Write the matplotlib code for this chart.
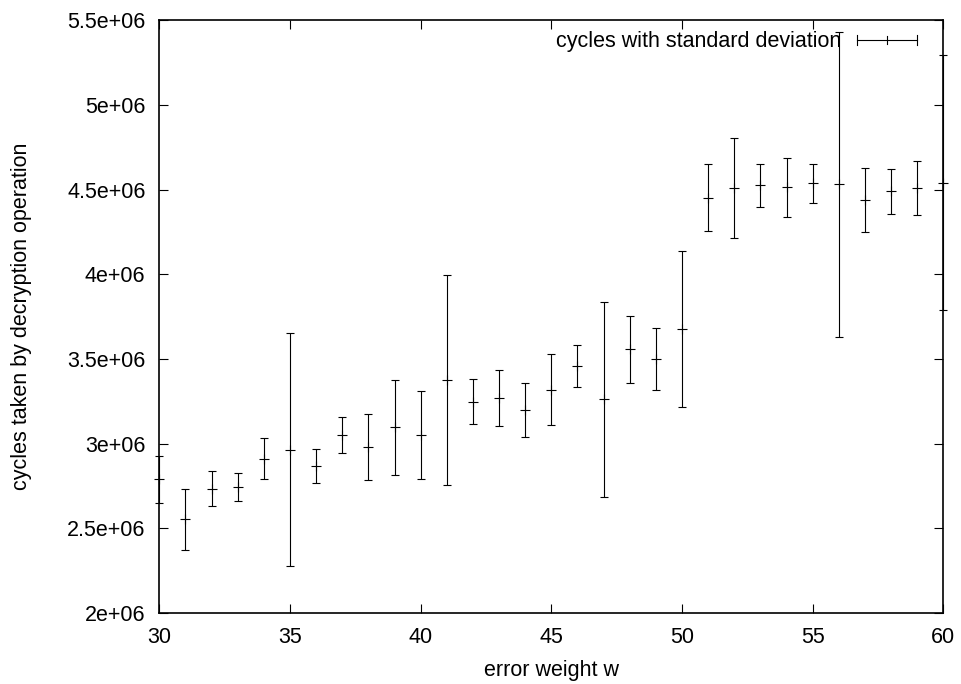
import matplotlib
matplotlib.use("Agg")
import matplotlib.pyplot as plt
from matplotlib.ticker import FuncFormatter, MultipleLocator
from matplotlib.legend_handler import HandlerBase
from matplotlib.lines import Line2D

# data (cycles in units of 1e6)
error_weight = list(range(30, 61))
mean_cycles = [2.790, 2.553, 2.735, 2.745, 2.912, 2.965, 2.867, 3.050, 2.981, 3.097,
               3.050, 3.378, 3.248, 3.270, 3.197, 3.319, 3.459, 3.262, 3.557, 3.500,
               3.677, 4.454, 4.510, 4.528, 4.514, 4.537, 4.532, 4.441, 4.490, 4.512,
               4.541]
std_cycles = [0.138, 0.182, 0.104, 0.083, 0.122, 0.687, 0.101, 0.105, 0.195, 0.281,
              0.260, 0.619, 0.134, 0.166, 0.160, 0.210, 0.126, 0.577, 0.200, 0.185,
              0.460, 0.200, 0.297, 0.127, 0.174, 0.118, 0.900, 0.190, 0.134, 0.160,
              0.753]
scale = 1e6
series_label = "cycles with standard deviation"
x_label = "error weight w"
y_label = "cycles taken by decryption operation"

plt.rcParams['font.family'] = ['Liberation Sans', 'DejaVu Sans']
FS = 15.5

fig = plt.figure(figsize=(9.62, 6.84), dpi=100)
ax = fig.add_axes([0.1656, 0.1038, 0.8150, 0.8663])

y = [m * scale for m in mean_cycles]
e = [s * scale for s in std_cycles]
eb = ax.errorbar(error_weight, y, yerr=e, fmt='+', color='black', ecolor='black',
                 elinewidth=0.8, capsize=3.1, capthick=0.8, markersize=6.5,
                 markeredgewidth=0.8, label=series_label)
for art in eb.get_children():
    art.set_clip_on(False)

ax.set_xlim(30, 60)
ax.set_ylim(2e6, 5.5e6)
ax.xaxis.set_major_locator(MultipleLocator(5))
ax.yaxis.set_major_locator(MultipleLocator(5e5))
ax.yaxis.set_major_formatter(FuncFormatter(lambda v, p: '%g' % v))
ax.xaxis.set_major_formatter(FuncFormatter(lambda v, p: '%g' % v))
ax.tick_params(direction='in', length=6.5, width=0.8, top=True, right=True,
               labelsize=FS, pad=10)
ax.tick_params(axis='x', pad=10)
for sp in ax.spines.values():
    sp.set_linewidth(1.2)

ax.set_xlabel(x_label, fontsize=FS, labelpad=9)
ax.set_ylabel(y_label, fontsize=FS, labelpad=25)


class HErrHandler(HandlerBase):
    def create_artists(self, legend, orig_handle, xdescent, ydescent, width,
                       height, fontsize, trans):
        yc = height / 2 - ydescent
        x0 = -xdescent
        x1 = width - xdescent
        kw = dict(color='black', lw=0.8, transform=trans)
        arts = [Line2D([x0, x1], [yc, yc], **kw),
                Line2D([x0, x0], [yc - 3.5, yc + 3.5], **kw),
                Line2D([x1, x1], [yc - 3.5, yc + 3.5], **kw),
                Line2D([(x0 + x1) / 2] * 2, [yc - 3, yc + 3], **kw)]
        return arts


handle = Line2D([], [], color='black')
ax.legend([handle], [series_label], handler_map={Line2D: HErrHandler()},
          loc='upper right', bbox_to_anchor=(0.9665, 0.9815), frameon=False,
          markerfirst=False, fontsize=FS, handlelength=2.8, handletextpad=0.7,
          borderpad=0, borderaxespad=0)

fig.savefig("out.png", dpi=100)
